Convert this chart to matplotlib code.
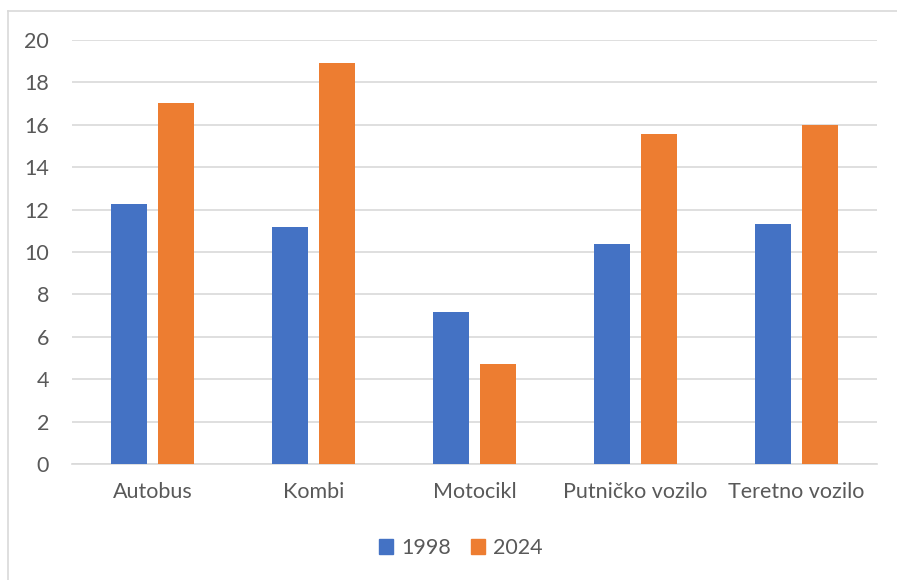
import matplotlib
matplotlib.use("Agg")
import matplotlib.pyplot as plt
from matplotlib.lines import Line2D
from matplotlib.patches import Patch
import numpy as np

categories = ["Autobus", "Kombi", "Motocikl", "Putničko vozilo", "Teretno vozilo"]
series_names = ["1998", "2024"]
values_1998 = [12.25, 11.2, 7.15, 10.38, 11.3]
values_2024 = [17.03, 18.9, 4.72, 15.58, 16.0]
y_ticks = [0, 2, 4, 6, 8, 10, 12, 14, 16, 18, 20]

BLUE = "#4472C4"
ORANGE = "#ED7D31"
GRID = "#D9D9D9"
TEXT = "#595959"
FS = 15.5

plt.rcParams["font.family"] = ["Lato", "DejaVu Sans"]

W, H = 897, 580
fig = plt.figure(figsize=(W / 100, H / 100), dpi=100)

# chart frame
fig.add_artist(Line2D([8 / W, 8 / W], [0, 1 - 11 / H], transform=fig.transFigure, color=GRID, lw=1.2))
fig.add_artist(Line2D([8 / W, 1], [1 - 11 / H, 1 - 11 / H], transform=fig.transFigure, color=GRID, lw=1.2))

ax = fig.add_axes([72 / W, 1 - 464 / H, (877 - 72) / W, (464 - 40) / H])

x = np.arange(len(categories))
bw = 0.224
off = 0.146
ax.bar(x - off, values_1998, bw, color=BLUE, zorder=3)
ax.bar(x + off, values_2024, bw, color=ORANGE, zorder=3)

ax.set_xlim(-0.5, len(categories) - 0.5)
ax.set_ylim(0, 20)
ax.set_yticks(y_ticks)
ax.yaxis.grid(True, color=GRID, lw=1.2, zorder=0)
ax.set_axisbelow(True)
for s in ["top", "right", "left"]:
    ax.spines[s].set_visible(False)
ax.spines["bottom"].set_color(GRID)
ax.spines["bottom"].set_linewidth(1.2)
ax.tick_params(axis="both", length=0, labelsize=FS, colors=TEXT)
ax.tick_params(axis="y", pad=16.5)
ax.tick_params(axis="x", pad=13)
ax.set_xticks(x)
ax.set_xticklabels(categories)

handles = [Patch(color=BLUE), Patch(color=ORANGE)]
fig.legend(handles, series_names, loc="center", bbox_to_anchor=(461 / W, 1 - 548 / H),
           ncol=2, frameon=False, fontsize=FS, labelcolor=TEXT,
           handlelength=0.65, handleheight=0.65, handletextpad=0.4, columnspacing=0.9)

fig.savefig("out.png", dpi=100)
